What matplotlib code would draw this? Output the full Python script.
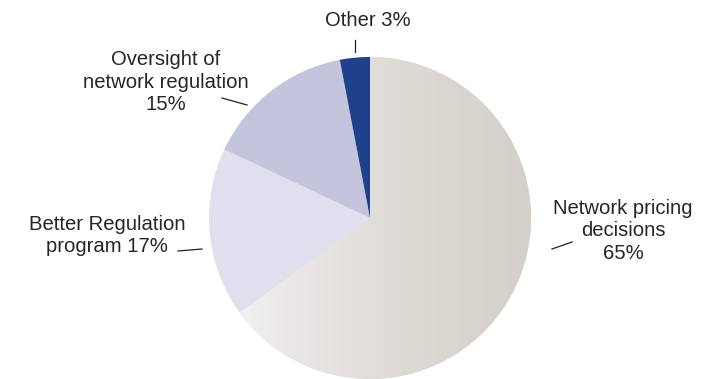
import matplotlib
matplotlib.use("Agg")
import matplotlib.pyplot as plt
import numpy as np
from matplotlib.colors import LinearSegmentedColormap

labels = ["Network pricing\ndecisions\n65%", "Better Regulation\nprogram 17%",
          "Oversight of\nnetwork regulation\n15%", "Other 3%"]
values = [65, 17, 15, 3]
colors = ["#dcd7d2", "#dfdfed", "#c4c4dd", "#1f418b"]

plt.rcParams['font.family'] = ['Liberation Sans', 'DejaVu Sans']

W, H = 704, 379
fig = plt.figure(figsize=(W / 100, H / 100), dpi=100)
ax = fig.add_axes([0, 0, 1, 1])

cx, cy, r = 370, H - 218, 161
wedges, _ = ax.pie(values, colors=colors, startangle=90, counterclock=False,
                   center=(cx, cy), radius=r, frame=True,
                   wedgeprops=dict(linewidth=0))
ax.set_xlim(0, W)
ax.set_ylim(0, H)
ax.set_aspect('equal')
ax.axis('off')

# gradient fill for the largest slice
cmap = LinearSegmentedColormap.from_list(
    "g", [(0, "#f7f6f9"), (0.25, "#ebe7e6"), (0.6, "#dedad5"), (1, "#d5cfc9")])
grad = np.linspace(0, 1, 256).reshape(1, -1)
im = ax.imshow(grad, cmap=cmap, extent=(cx - r, cx + r, cy - r, cy + r),
               aspect='auto', zorder=wedges[0].get_zorder() + 0.1)
im.set_clip_path(wedges[0])

fs = 14.6
tc = "#262626"

def T(x, y, s, ha='center'):
    ax.text(x, H - y, s, ha=ha, va='center', fontsize=fs, color=tc,
            linespacing=1.22)

def L(x1, y1, x2, y2):
    ax.plot([x1, x2], [H - y1, H - y2], color="#222222", lw=0.9)

T(623, 231, labels[0])
L(552, 249, 572, 242)
T(107, 235.5, labels[1])
L(178, 251, 202, 249)
T(166, 82, labels[2])
L(222, 98, 247, 105)
T(368, 20, labels[3])
L(355, 40, 355, 52)

fig.savefig("out.png", dpi=100)
